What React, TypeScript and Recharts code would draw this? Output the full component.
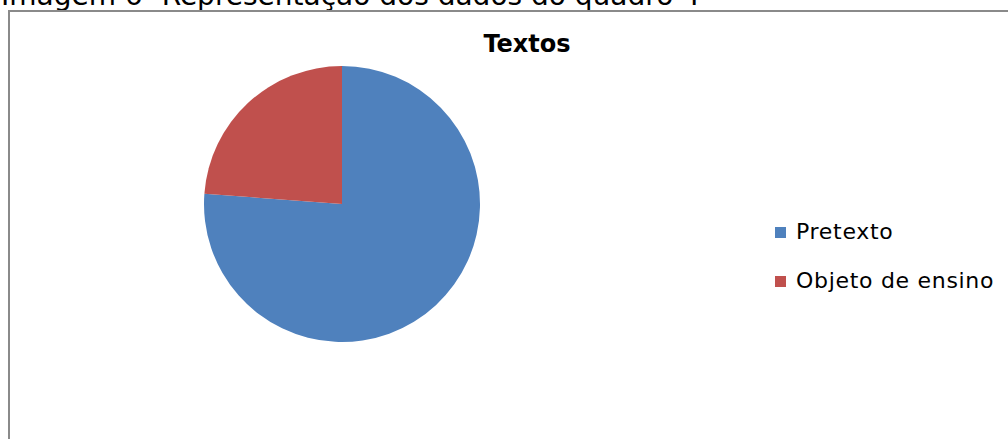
import { PieChart, Pie, Cell, Legend } from 'recharts'

const categories = ['Pretexto', 'Objeto de ensino']
const values = [16, 5]
const colors = ['#4F81BD', '#C0504D']

const caption = 'Imagem 6- Representação dos dados do quadro 4'
const title = 'Textos'

const data = categories.map((name, i) => ({ name, value: values[i] }))

const font = '"DejaVu Sans", Verdana, sans-serif'

function LegendBox({ payload }: any) {
  const items = [...(payload || [])].sort(
    (a: any, b: any) => categories.indexOf(a.value) - categories.indexOf(b.value)
  )
  return (
    <div style={{ fontFamily: font, fontSize: 22, letterSpacing: 0.7, color: '#000' }}>
      {items.map((p: any) => (
        <div key={p.value} style={{ display: 'flex', alignItems: 'center', height: 26, lineHeight: '26px', marginBottom: 23 }}>
          <span style={{ display: 'inline-block', width: 11, height: 11, background: p.color, marginRight: 10 }} />
          <span style={{ whiteSpace: 'nowrap' }}>{p.value}</span>
        </div>
      ))}
    </div>
  )
}

export default function App() {
  return (
    <div style={{ position: 'fixed', left: 0, top: 0, width: 1008, height: 439, overflow: 'hidden', background: '#fff' }}>
      <div style={{ position: 'absolute', left: 1, top: -20, fontFamily: font, fontSize: 28, lineHeight: '32px', whiteSpace: 'nowrap', color: '#000' }}>
        {caption}
      </div>
      <div style={{ position: 'absolute', left: 8, top: 10, width: 1100, height: 500, border: '2px solid #8a8a8a' }} />
      <div style={{ position: 'absolute', left: 0, top: 30, width: 1054, textAlign: 'center', fontFamily: font, fontWeight: 'bold', fontSize: 24, lineHeight: '28px', color: '#000' }}>
        {title}
      </div>
      <div style={{ position: 'absolute', left: 0, top: 0 }}>
        <PieChart width={1008} height={439} margin={{ top: 0, right: 0, bottom: 0, left: 0 }}>
          <Pie
            data={data}
            dataKey="value"
            nameKey="name"
            cx={342}
            cy={204}
            outerRadius={138}
            startAngle={90}
            endAngle={-270}
            stroke="none"
            isAnimationActive={false}
          >
            {data.map((d, i) => (
              <Cell key={d.name} fill={colors[i]} />
            ))}
          </Pie>
          <Legend
            content={<LegendBox />}
            wrapperStyle={{ left: 775, top: 219, width: 240, bottom: 'auto', right: 'auto' }}
          />
        </PieChart>
      </div>
    </div>
  )
}
